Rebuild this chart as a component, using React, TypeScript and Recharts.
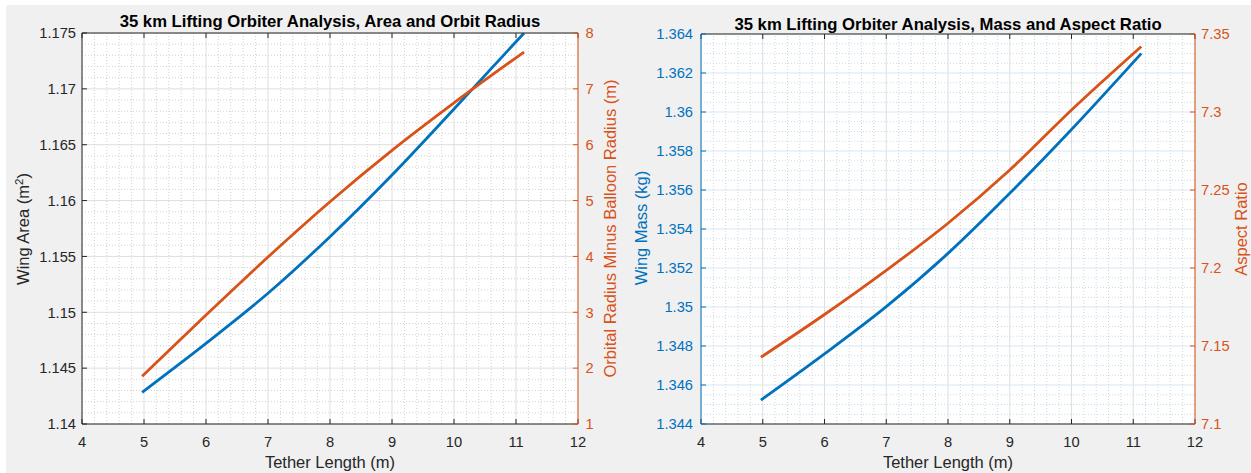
import React from "react";
import {
  LineChart,
  Line,
  XAxis,
  YAxis,
  CartesianGrid,
  ReferenceLine,
} from "recharts";

// tether length samples (m)
const tetherLength = [4.97, 6, 7, 8, 9, 10, 11.13];

// area / orbit radius study
const wingArea = [1.14284, 1.14722, 1.1517, 1.15677, 1.16229, 1.1682, 1.175];
const orbitRadius = [1.854, 2.95, 3.99, 4.98, 5.9, 6.75, 7.66];

// mass / aspect ratio study
const wingMass = [1.34523, 1.3476, 1.35002, 1.35275, 1.35583, 1.3591, 1.363];
const aspectRatio = [7.1428, 7.1702, 7.1985, 7.2287, 7.2628, 7.3013, 7.342];

const xTicks = [4, 5, 6, 7, 8, 9, 10, 11, 12];
const areaTicks = [1.14, 1.145, 1.15, 1.155, 1.16, 1.165, 1.17, 1.175];
const radiusTicks = [1, 2, 3, 4, 5, 6, 7, 8];
const massTicks = [
  1.344, 1.346, 1.348, 1.35, 1.352, 1.354, 1.356, 1.358, 1.36, 1.362, 1.364,
];
const ratioTicks = [7.1, 7.15, 7.2, 7.25, 7.3, 7.35];

const BLUE = "#0072BD";
const ORANGE = "#D95319";
const AXIS = "#262626";
const GRID = "#dedede";
const GRID_MINOR = "#d2d2d2";
const GRID_BLUE = "#d6e8f4";
const GRID_BLUE_MINOR = "#c4def0";
const FONT = "'Liberation Sans', Arial, Helvetica, sans-serif";

const areaRows = tetherLength.map((x, i) => ({
  x,
  area: wingArea[i],
  radius: orbitRadius[i],
}));

const massRows = tetherLength.map((x, i) => ({
  x,
  mass: wingMass[i],
  ratio: aspectRatio[i],
}));

// positions of the dotted minor grid between major ticks
const minorBetween = (ticks: number[], parts: number) => {
  const out: number[] = [];
  for (let i = 0; i < ticks.length - 1; i++) {
    const step = (ticks[i + 1] - ticks[i]) / parts;
    for (let k = 1; k < parts; k++) out.push(+(ticks[i] + step * k).toFixed(6));
  }
  return out;
};

const noLabel = () => <g />;

type PanelProps = {
  left: number;
  width: number;
  marginTop: number;
  leftWidth: number;
  rightWidth: number;
  data: Record<string, number>[];
  leftKey: string;
  rightKey: string;
  leftTicks: number[];
  rightTicks: number[];
  leftMinorParts: number;
  leftAxisColor: string;
  hGrid: string;
  hMinor: string;
  leftTickMargin: number;
  rightTickMargin: number;
};

const DualAxisPanel = (p: PanelProps) => {
  const xMinor = minorBetween(xTicks, 5);
  const yMinor = minorBetween(p.leftTicks, p.leftMinorParts);
  const tickFont = { fontSize: 14.7, fontFamily: FONT };
  const leftDomain = [p.leftTicks[0], p.leftTicks[p.leftTicks.length - 1]];
  const rightDomain = [p.rightTicks[0], p.rightTicks[p.rightTicks.length - 1]];

  return (
    <div style={{ position: "absolute", left: p.left, top: 0 }}>
      <LineChart
        width={p.width}
        height={473}
        data={p.data}
        margin={{ top: p.marginTop, right: 0, bottom: 0, left: 0 }}
      >
        <CartesianGrid
          xAxisId="bottom"
          yAxisId="left"
          fill="#ffffff"
          horizontal={false}
          stroke={GRID}
        />
        <CartesianGrid
          xAxisId="bottom"
          yAxisId="left"
          vertical={false}
          stroke={p.hGrid}
        />
        {xMinor.map((v) => (
          <ReferenceLine
            key={`vx-${v}`}
            x={v}
            xAxisId="bottom"
            yAxisId="left"
            stroke={GRID_MINOR}
            strokeDasharray="1 2"
          />
        ))}
        {yMinor.map((v) => (
          <ReferenceLine
            key={`hy-${v}`}
            y={v}
            xAxisId="bottom"
            yAxisId="left"
            stroke={p.hMinor}
            strokeDasharray="1 2"
          />
        ))}
        <XAxis
          xAxisId="bottom"
          dataKey="x"
          type="number"
          domain={[4, 12]}
          ticks={xTicks}
          interval={0}
          height={49}
          tickSize={-5}
          tickMargin={18}
          axisLine={{ stroke: AXIS }}
          tickLine={{ stroke: AXIS }}
          tick={{ fill: AXIS, ...tickFont }}
        />
        <XAxis
          xAxisId="top"
          orientation="top"
          dataKey="x"
          type="number"
          domain={[4, 12]}
          ticks={xTicks}
          interval={0}
          height={5}
          tickSize={-5}
          axisLine={{ stroke: AXIS }}
          tickLine={{ stroke: AXIS }}
          tick={noLabel}
        />
        <YAxis
          yAxisId="left"
          type="number"
          domain={leftDomain}
          ticks={p.leftTicks}
          interval={0}
          allowDataOverflow
          width={p.leftWidth}
          tickSize={-5}
          tickMargin={p.leftTickMargin}
          axisLine={{ stroke: p.leftAxisColor }}
          tickLine={{ stroke: p.leftAxisColor }}
          tick={{ fill: p.leftAxisColor, ...tickFont }}
        />
        <YAxis
          yAxisId="right"
          orientation="right"
          type="number"
          domain={rightDomain}
          ticks={p.rightTicks}
          interval={0}
          allowDataOverflow
          width={p.rightWidth}
          tickSize={-5}
          tickMargin={p.rightTickMargin}
          axisLine={{ stroke: ORANGE }}
          tickLine={{ stroke: ORANGE }}
          tick={{ fill: ORANGE, ...tickFont }}
        />
        <Line
          xAxisId="bottom"
          yAxisId="left"
          dataKey={p.leftKey}
          type="monotone"
          stroke={BLUE}
          strokeWidth={2.8}
          dot={false}
          isAnimationActive={false}
        />
        <Line
          xAxisId="bottom"
          yAxisId="right"
          dataKey={p.rightKey}
          type="monotone"
          stroke={ORANGE}
          strokeWidth={2.8}
          dot={false}
          isAnimationActive={false}
        />
      </LineChart>
    </div>
  );
};

const titleStyle = {
  fontFamily: FONT,
  fontSize: 16.7,
  fontWeight: 700,
  fill: "#000000",
};
const labelStyle = { fontFamily: FONT, fontSize: 16.5 };

const App: React.FC = () => {
  return (
    <div
      style={{
        position: "absolute",
        left: 0,
        top: 0,
        width: 1251,
        height: 473,
        background: "#ffffff",
        overflow: "hidden",
      }}
    >
      <div
        style={{
          position: "absolute",
          left: 6,
          top: 5,
          width: 1245,
          height: 468,
          background: "#f0f0f0",
          borderTopLeftRadius: 3,
        }}
      />

      <DualAxisPanel
        left={0}
        width={630}
        marginTop={28}
        leftWidth={82}
        rightWidth={52}
        data={areaRows}
        leftKey="area"
        rightKey="radius"
        leftTicks={areaTicks}
        rightTicks={radiusTicks}
        leftMinorParts={5}
        leftAxisColor={AXIS}
        hGrid={GRID}
        hMinor={GRID_MINOR}
        leftTickMargin={11}
        rightTickMargin={12.5}
      />

      <DualAxisPanel
        left={633}
        width={618}
        marginTop={29}
        leftWidth={68}
        rightWidth={56}
        data={massRows}
        leftKey="mass"
        rightKey="ratio"
        leftTicks={massTicks}
        rightTicks={ratioTicks}
        leftMinorParts={4}
        leftAxisColor={BLUE}
        hGrid={GRID_BLUE}
        hMinor={GRID_BLUE_MINOR}
        leftTickMargin={13}
        rightTickMargin={11}
      />

      {/* titles and axis captions */}
      <svg
        width={1251}
        height={473}
        style={{ position: "absolute", left: 0, top: 0, pointerEvents: "none" }}
      >
        <text x={330} y={27} textAnchor="middle" style={titleStyle}>
          35 km Lifting Orbiter Analysis, Area and Orbit Radius
        </text>
        <text x={330} y={468} textAnchor="middle" fill={AXIS} style={labelStyle}>
          Tether Length (m)
        </text>
        <text
          x={28.5}
          y={229}
          textAnchor="middle"
          fill={AXIS}
          style={labelStyle}
          transform="rotate(-90 28.5 229)"
        >
          Wing Area (m
          <tspan dy={-6} fontSize={11.5}>
            2
          </tspan>
          <tspan dy={6}>)</tspan>
        </text>
        <text
          x={615.5}
          y={228.5}
          textAnchor="middle"
          fill={ORANGE}
          style={labelStyle}
          transform="rotate(-90 615.5 228.5)"
        >
          Orbital Radius Minus Balloon Radius (m)
        </text>

        <text x={948} y={29.5} textAnchor="middle" style={titleStyle}>
          35 km Lifting Orbiter Analysis, Mass and Aspect Ratio
        </text>
        <text x={948} y={468} textAnchor="middle" fill={AXIS} style={labelStyle}>
          Tether Length (m)
        </text>
        <text
          x={647}
          y={228}
          textAnchor="middle"
          fill={BLUE}
          style={labelStyle}
          transform="rotate(-90 647 228)"
        >
          Wing Mass (kg)
        </text>
        <text
          x={1246.5}
          y={229}
          textAnchor="middle"
          fill={ORANGE}
          style={labelStyle}
          transform="rotate(-90 1246.5 229)"
        >
          Aspect Ratio
        </text>
      </svg>
    </div>
  );
};

export default App;
